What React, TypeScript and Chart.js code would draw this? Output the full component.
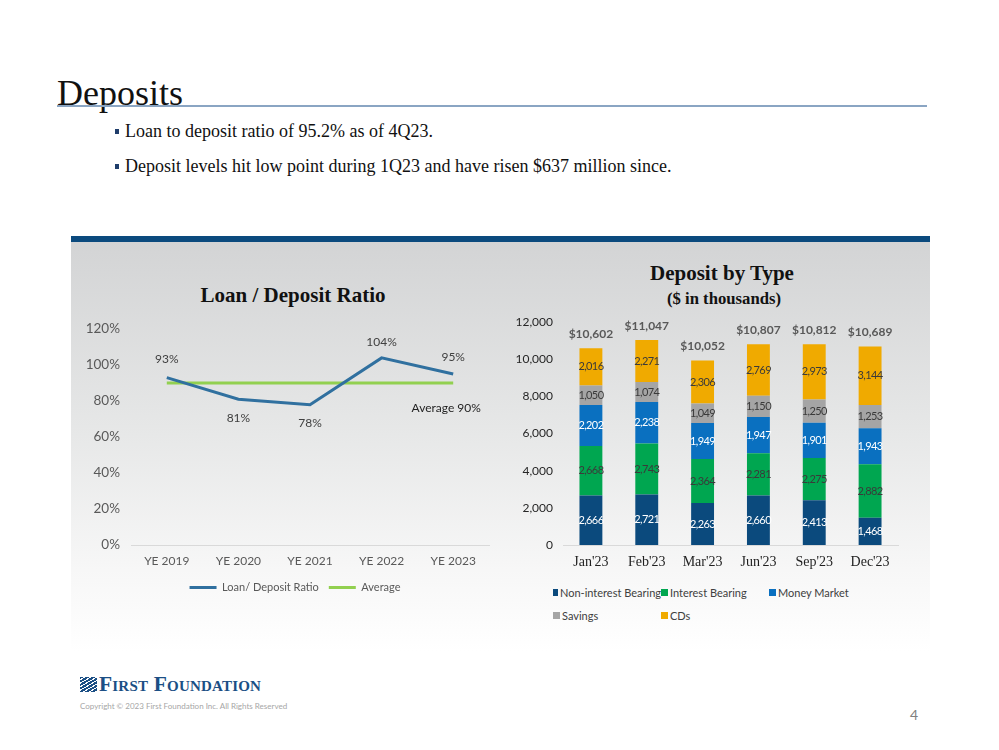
import React, { useEffect, useRef } from "react";
import { Chart, registerables } from "chart.js";

Chart.register(...registerables);

const SANS = "Lato, 'Open Sans', sans-serif";
const SERIF = "'Liberation Serif', 'Times New Roman', serif";

// ---- Loan / Deposit Ratio ----
const ratioYears = ["YE 2019", "YE 2020", "YE 2021", "YE 2022", "YE 2023"];
const loanDepositRatio = [93, 81, 78, 104, 95];
const averageRatio = [90, 90, 90, 90, 90];
const averageLabel = "Average 90%";

// ---- Deposit by Type ----
const months = ["Jan'23", "Feb'23", "Mar'23", "Jun'23", "Sep'23", "Dec'23"];
const nonInterestBearing = [2666, 2721, 2263, 2660, 2413, 1468];
const interestBearing = [2668, 2743, 2364, 2281, 2275, 2882];
const moneyMarket = [2202, 2238, 1949, 1947, 1901, 1943];
const savings = [1050, 1074, 1049, 1150, 1250, 1253];
const cds = [2016, 2271, 2306, 2769, 2973, 3144];
const depositTotals = [10602, 11047, 10052, 10807, 10812, 10689];

const seriesNames = ["Non-interest Bearing", "Interest Bearing", "Money Market", "Savings", "CDs"];
const seriesColors = ["#0b4a7d", "#00a650", "#0a70c0", "#a5a5a5", "#f0aa00"];
const seriesLabelColors = ["#ffffff", "#3a3a3a", "#ffffff", "#3a3a3a", "#3a3a3a"];

const fmt = (n: number) => n.toLocaleString("en-US");

function RatioChart() {
  const ref = useRef<HTMLCanvasElement | null>(null);
  useEffect(() => {
    if (!ref.current) return;
    const labelOffsets = [-19, 19, 18, -16, -17];
    const labelsPlugin = {
      id: "ratioLabels",
      afterLayout(chart: any) {
        // nudge the legend block to the right like the original
        if (chart.legend) chart.legend.left += 30;
      },
      afterDatasetsDraw(chart: any) {
        const ctx = chart.ctx;
        ctx.save();
        ctx.textAlign = "center";
        ctx.textBaseline = "middle";
        ctx.font = `12px ${SANS}`;
        ctx.fillStyle = "#404040";
        const meta = chart.getDatasetMeta(0);
        meta.data.forEach((pt: any, i: number) => {
          ctx.fillText(loanDepositRatio[i] + "%", pt.x, pt.y + labelOffsets[i]);
        });
        const avgMeta = chart.getDatasetMeta(1);
        const last = avgMeta.data[avgMeta.data.length - 1];
        ctx.fillStyle = "#1f1f1f";
        ctx.fillText(averageLabel, last.x - 7, last.y + 25);
        ctx.restore();
      },
    };
    const chart = new Chart(ref.current, {
      type: "line",
      data: {
        labels: ratioYears,
        datasets: [
          {
            label: "Loan/ Deposit Ratio",
            data: loanDepositRatio,
            borderColor: "#30709f",
            backgroundColor: "#30709f",
            borderWidth: 3,
            pointRadius: 0,
            tension: 0,
            pointStyle: "line",
          },
          {
            label: "Average",
            data: averageRatio,
            borderColor: "#92d050",
            backgroundColor: "#92d050",
            borderWidth: 3,
            pointRadius: 0,
            pointStyle: "line",
          },
        ],
      },
      options: {
        animation: false,
        responsive: false,
        maintainAspectRatio: false,
        layout: { padding: { top: 11, left: 0, right: 11, bottom: 7 } },
        plugins: {
          legend: {
            position: "bottom",
            labels: {
              usePointStyle: true,
              pointStyle: "line",
              pointStyleWidth: 27,
              color: "#595959",
              font: { family: SANS, size: 11 },
              padding: 10,
            },
          },
          tooltip: { enabled: false },
          title: { display: false },
        },
        scales: {
          x: {
            offset: true,
            grid: { display: false, drawTicks: false },
            border: { display: true, color: "#d9d9d9", width: 1 },
            ticks: { color: "#595959", font: { family: SANS, size: 12 }, padding: 9 },
            afterFit: (s: any) => {
              s.height = 27;
            },
          },
          y: {
            min: 0,
            max: 120,
            grid: { display: false, drawTicks: false },
            border: { display: false },
            ticks: {
              stepSize: 20,
              color: "#595959",
              padding: 11,
              font: { family: SANS, size: 13.5 },
              callback: (v: any) => v + "%",
            },
            afterFit: (s: any) => {
              s.width = 60;
            },
          },
        },
      },
      plugins: [labelsPlugin],
    } as any);
    return () => chart.destroy();
  }, []);
  return <canvas ref={ref} width={429} height={300} style={{ position: "absolute", left: 71, top: 310, width: 429, height: 300 }} />;
}

function DepositChart() {
  const ref = useRef<HTMLCanvasElement | null>(null);
  useEffect(() => {
    if (!ref.current) return;
    const seriesData = [nonInterestBearing, interestBearing, moneyMarket, savings, cds];
    const barLabels = {
      id: "barLabels",
      afterDatasetsDraw(chart: any) {
        const ctx = chart.ctx;
        ctx.save();
        ctx.textAlign = "center";
        ctx.textBaseline = "middle";
        ctx.font = `11px ${SANS}`;
        try {
          (ctx as any).letterSpacing = "-0.6px";
        } catch (e) {}
        chart.data.datasets.forEach((ds: any, di: number) => {
          const meta = chart.getDatasetMeta(di);
          ctx.fillStyle = seriesLabelColors[di];
          meta.data.forEach((bar: any, i: number) => {
            ctx.fillText(fmt(ds.data[i]), bar.x, (bar.y + bar.base) / 2);
          });
        });
        try {
          (ctx as any).letterSpacing = "0px";
        } catch (e) {}
        ctx.font = `bold 12px ${SANS}`;
        ctx.fillStyle = "#595959";
        const topMeta = chart.getDatasetMeta(chart.data.datasets.length - 1);
        topMeta.data.forEach((bar: any, i: number) => {
          ctx.fillText("$" + fmt(depositTotals[i]), bar.x, bar.y - 14);
        });
        ctx.restore();
      },
    };
    const chart = new Chart(ref.current, {
      type: "bar",
      data: {
        labels: months,
        datasets: seriesData.map((d, i) => ({
          label: seriesNames[i],
          data: d,
          backgroundColor: seriesColors[i],
          borderWidth: 0,
          categoryPercentage: 1,
          barPercentage: 0.41,
        })),
      },
      options: {
        animation: false,
        responsive: false,
        maintainAspectRatio: false,
        layout: { padding: { top: 11, left: 0, right: 32, bottom: 8 } },
        plugins: {
          legend: { display: false },
          tooltip: { enabled: false },
        },
        scales: {
          x: {
            stacked: true,
            grid: { display: false, drawTicks: false },
            border: { display: true, color: "#d9d9d9", width: 1 },
            ticks: { color: "#1f1f1f", font: { family: SERIF, size: 14 }, padding: 9 },
            afterFit: (s: any) => {
              s.height = 27;
            },
          },
          y: {
            stacked: true,
            min: 0,
            max: 12000,
            grid: { display: false, drawTicks: false },
            border: { display: false },
            ticks: {
              stepSize: 2000,
              color: "#262626",
              padding: 10,
              font: { family: SANS, size: 12 },
              callback: (v: any) => fmt(Number(v)),
            },
            afterFit: (s: any) => {
              s.width = 63;
            },
          },
        },
      },
      plugins: [barLabels],
    } as any);
    return () => chart.destroy();
  }, []);
  return <canvas ref={ref} width={430} height={275} style={{ position: "absolute", left: 500, top: 305, width: 430, height: 275 }} />;
}

export default function App() {
  const abs = (s: React.CSSProperties): React.CSSProperties => ({ position: "absolute", ...s });
  return (
    <div style={{ position: "absolute", left: 0, top: 0, width: 999, height: 750, background: "#ffffff", overflow: "hidden", fontFamily: SANS }}>
      <div style={abs({ left: 57, top: 75, fontFamily: SERIF, fontSize: 36, lineHeight: "36px", color: "#111", whiteSpace: "nowrap" })}>Deposits</div>
      <div style={abs({ left: 57, top: 105, width: 870, height: 2, background: "#8aa5c3" })} />

      <div style={abs({ left: 115, top: 129, width: 4, height: 5, background: "#1f3d6b" })} />
      <div style={abs({ left: 125, top: 122, fontFamily: SERIF, fontSize: 18, lineHeight: "18px", color: "#111", whiteSpace: "nowrap" })}>
        Loan to deposit ratio of 95.2% as of 4Q23.
      </div>
      <div style={abs({ left: 115, top: 164, width: 4, height: 5, background: "#1f3d6b" })} />
      <div style={abs({ left: 125, top: 157, fontFamily: SERIF, fontSize: 18, lineHeight: "18px", color: "#111", whiteSpace: "nowrap" })}>
        Deposit levels hit low point during 1Q23 and have risen $637 million since.
      </div>

      <div style={abs({ left: 71, top: 236, width: 859, height: 6, background: "#0b4a7e" })} />
      <div style={abs({ left: 71, top: 242, width: 859, height: 410, background: "linear-gradient(#d3d4d5 0%, #e6e7e7 45%, #f7f7f7 80%, #ffffff 100%)" })} />

      <div style={abs({ left: 93, width: 400, top: 285, textAlign: "center", fontFamily: SERIF, fontWeight: "bold", fontSize: 21, lineHeight: "21px", color: "#111" })}>
        Loan / Deposit Ratio
      </div>
      <div style={abs({ left: 572, width: 300, top: 263, textAlign: "center", fontFamily: SERIF, fontWeight: "bold", fontSize: 21, lineHeight: "21px", color: "#111" })}>
        Deposit by Type
      </div>
      <div style={abs({ left: 574, width: 300, top: 290, textAlign: "center", fontFamily: SERIF, fontWeight: "bold", fontSize: 16.7, lineHeight: "17px", color: "#111" })}>
        ($ in thousands)
      </div>

      <RatioChart />
      <DepositChart />

      <div style={abs({ left: 553, top: 581, display: "grid", gridTemplateColumns: "108px 108px 108px", gridAutoRows: "23px", fontSize: 11, color: "#404040" })}>
        {seriesNames.map((n, i) => (
          <div key={n} style={{ display: "flex", alignItems: "center", whiteSpace: "nowrap" }}>
            <span style={{ display: "inline-block", width: 7, height: 7, background: seriesColors[i], marginRight: 2 }} />
            {n}
          </div>
        ))}
      </div>

      <div
        style={abs({
          left: 80,
          top: 677,
          width: 17,
          height: 15,
          background: "repeating-linear-gradient(150deg, #1b4f85 0px, #1b4f85 2px, #ffffff 2px, #ffffff 3px)",
        })}
      />
      <div style={abs({ left: 99, top: 674, fontFamily: SERIF, fontWeight: "bold", fontSize: 21.5, lineHeight: "21px", fontVariant: "small-caps", color: "#1b4f85", whiteSpace: "nowrap", letterSpacing: "0.2px" })}>
        First Foundation
      </div>
      <div style={abs({ left: 80, top: 701, fontSize: 8, lineHeight: "10px", color: "#a6a6a6", whiteSpace: "nowrap" })}>
        Copyright © 2023 First Foundation Inc. All Rights Reserved
      </div>
      <div style={abs({ left: 910, top: 707, fontSize: 14, lineHeight: "16px", color: "#7f7f7f" })}>4</div>
    </div>
  );
}
